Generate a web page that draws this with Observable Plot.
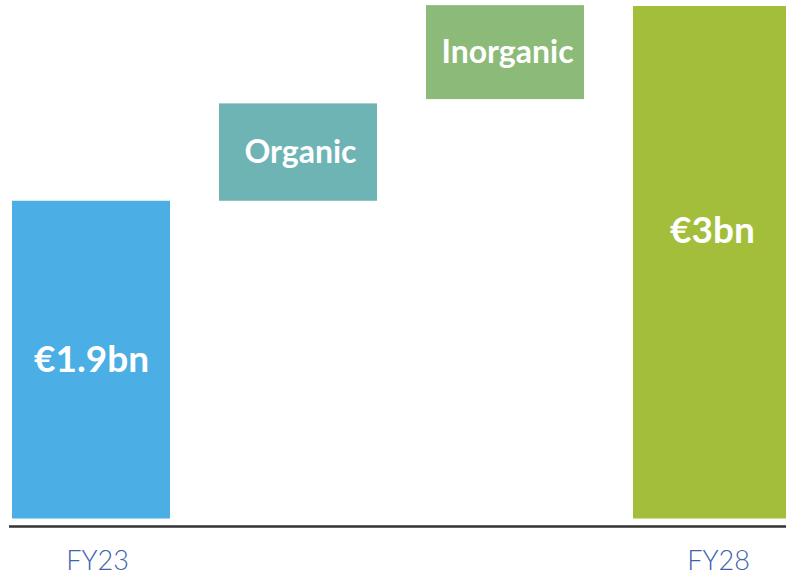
<!DOCTYPE html>
<html>
<head>
<meta charset="utf-8">
<script src="https://cdn.jsdelivr.net/npm/d3@7"></script>
<script src="https://cdn.jsdelivr.net/npm/@observablehq/plot@0.6"></script>
<style>
  html, body { margin: 0; padding: 0; background: #fff; overflow: hidden; }
  #chart svg { display: block; overflow: hidden; }
</style>
</head>
<body>
<div id="chart"></div>
<script>
// Data (values in € bn)
const categories = ["FY23", "Organic", "Inorganic", "FY28"];
const barStart   = [0, 1.86, 2.455, 0];
const barEnd     = [1.86, 2.43, 3.005, 3.0];
const barLabels  = ["€1.9bn", "Organic", "Inorganic", "€3bn"];
const tickLabels = ["FY23", "", "", "FY28"];
const barColors  = ["#4BAEE4", "#6EB4B4", "#8CBA78", "#A2BE3A"];

const data = categories.map((c, i) => ({
  cat: c, y1: barStart[i], y2: barEnd[i], label: barLabels[i], color: barColors[i]
}));

const font = "Lato, 'Open Sans', sans-serif";

const chart = Plot.plot({
  width: 786,
  height: 576,
  marginTop: 6,
  marginBottom: 57.5,
  marginLeft: 9,
  marginRight: 0,
  style: { fontFamily: font, background: "#fff" },
  x: { domain: categories, range: [12, 792], paddingInner: 0.236, paddingOuter: 0 },
  y: { domain: [0, 3], axis: null },
  color: { type: "identity" },
  marks: [
    Plot.barY(data, { x: "cat", y1: "y1", y2: "y2", fill: "color" }),
    Plot.ruleY([0], { dy: 7.5, stroke: "#333", strokeWidth: 2.5 }),
    Plot.axisX({
      tickSize: 0, tickPadding: 32, label: null, dx: 6,
      tickFormat: d => tickLabels[categories.indexOf(d)],
      fontSize: 27, fill: "#3d63ad", fontWeight: 300
    }),
    // Value labels in the total bars
    Plot.text(data.filter(d => d.cat === "FY23"), {
      x: "cat", y: d => (d.y1 + d.y2) / 2, text: "label",
      fill: "white", fontSize: 37, fontWeight: "bold"
    }),
    Plot.text(data.filter(d => d.cat === "FY28"), {
      x: "cat", y: d => (d.y1 + d.y2) / 2, text: "label", dy: -32,
      fill: "white", fontSize: 37, fontWeight: "bold"
    }),
    // Step labels
    Plot.text(data.filter(d => d.cat === "Organic" || d.cat === "Inorganic"), {
      x: "cat", y: d => (d.y1 + d.y2) / 2, text: "label", dx: 2,
      fill: "white", fontSize: 32, fontWeight: "bold"
    })
  ]
});

document.getElementById("chart").appendChild(chart);
</script>
</body>
</html>
